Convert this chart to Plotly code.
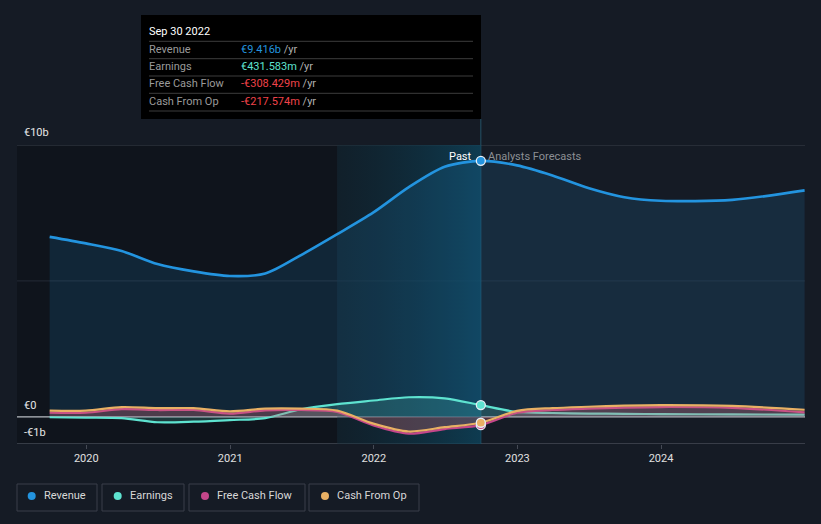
import plotly.graph_objects as go

# ---------------- data ----------------
past_dates = ["2019-09-30", "2019-12-31", "2020-03-31", "2020-06-30", "2020-09-30",
              "2020-12-31", "2021-03-31", "2021-06-30", "2021-09-30", "2021-12-31",
              "2022-03-31", "2022-06-30", "2022-09-30"]
fc_dates = ["2022-09-30", "2022-12-31", "2023-03-31", "2023-06-30", "2023-09-30",
            "2023-12-31", "2024-06-30", "2024-12-31"]

revenue_past = [6.62, 6.38, 6.10, 5.62, 5.35, 5.18, 5.27, 5.95, 6.72, 7.52, 8.45, 9.20, 9.416]
revenue_fc = [9.416, 9.25, 8.88, 8.42, 8.08, 7.95, 7.98, 8.33]

earnings_past = [-0.01, -0.03, -0.05, -0.20, -0.18, -0.12, -0.05, 0.28, 0.47, 0.60, 0.72, 0.68, 0.432]
earnings_fc = [0.432, 0.18, 0.14, 0.12, 0.11, 0.10, 0.09, 0.08]

fcf_past = [0.15, 0.15, 0.28, 0.25, 0.25, 0.12, 0.24, 0.25, 0.18, -0.32, -0.62, -0.45, -0.308]
fcf_fc = [-0.308, 0.15, 0.25, 0.30, 0.34, 0.36, 0.33, 0.16]

cfo_past = [0.23, 0.23, 0.36, 0.32, 0.32, 0.20, 0.30, 0.30, 0.23, -0.25, -0.54, -0.38, -0.218]
cfo_fc = [-0.218, 0.22, 0.32, 0.37, 0.41, 0.43, 0.40, 0.26]

tick_vals = ["2020-01-01", "2021-01-01", "2022-01-01", "2023-01-01", "2024-01-01"]
tick_text = ["2020", "2021", "2022", "2023", "2024"]

series_names = ["Revenue", "Earnings", "Free Cash Flow", "Cash From Op"]
series_colors = ["#2394df", "#5ee3d0", "#c4468a", "#e8b064"]
series_fills = ["rgba(35,148,223,0.14)", "rgba(94,227,208,0.18)",
                "rgba(196,70,138,0.22)", "rgba(232,176,100,0.12)"]

tooltip_date = "Sep 30 2022"
tooltip_values = ["€9.416b", "€431.583m", "-€308.429m", "-€217.574m"]
tooltip_colors = ["#2394df", "#5ee3d0", "#f0434a", "#f0434a"]

# ---------------- layout geometry ----------------
W, H = 821, 524
L, R, T, B = 17, 805, 145, 444
BG = "#151b25"


def px(x):
    return (x - L) / (R - L)


def py(y):
    return (B - y) / (B - T)


FONT = "Roboto"
DX = -2  # annotation padding compensation

fig = go.Figure()

# highlight band (last year before Sep 30 2022)
fig.add_trace(go.Scatter(
    x=["2021-09-30", "2022-09-30", "2022-09-30", "2021-09-30", "2021-09-30"],
    y=[-1, -1, 10, 10, -1], mode="none", fill="toself",
    fillgradient=dict(type="horizontal",
                      colorscale=[[0, "rgba(10,40,52,0.35)"], [1, "rgba(12,70,95,0.75)"]]),
    hoverinfo="skip", showlegend=False))

all_past = [revenue_past, earnings_past, fcf_past, cfo_past]
all_fc = [revenue_fc, earnings_fc, fcf_fc, cfo_fc]
for name, col, fillc, vp, vf in zip(series_names, series_colors, series_fills, all_past, all_fc):
    xs = past_dates + fc_dates[1:]
    ys = vp + vf[1:]
    fig.add_trace(go.Scatter(
        x=xs, y=ys, mode="lines", name=name,
        line=dict(color=col, width=2.6 if name == "Revenue" else 2.2, shape="spline", smoothing=0.8),
        fill="tozeroy", fillcolor=fillc, hoverinfo="skip", showlegend=False))

# markers at the past / forecast boundary
for name, col, vp in zip(series_names, series_colors, all_past):
    fig.add_trace(go.Scatter(
        x=[past_dates[-1]], y=[vp[-1]], mode="markers",
        marker=dict(size=9, color=col, line=dict(color="#e8eef5", width=1.3)),
        hoverinfo="skip", showlegend=False))

shapes = []
# darker past region
shapes.append(dict(type="rect", xref="paper", yref="paper", x0=0, x1=px(337), y0=0, y1=1,
                   fillcolor="rgba(5,8,12,0.35)", line=dict(width=0), layer="below"))
# gridlines
shapes.append(dict(type="line", xref="paper", yref="y", x0=0, x1=1, y0=10, y1=10,
                   line=dict(color="#3a404b", width=1), layer="below"))
shapes.append(dict(type="line", xref="paper", yref="y", x0=0, x1=1, y0=5, y1=5,
                   line=dict(color="#252b36", width=1), layer="below"))
shapes.append(dict(type="line", xref="paper", yref="y", x0=0, x1=1, y0=0, y1=0,
                   line=dict(color="#b8bcc2", width=1.2), layer="below"))
shapes.append(dict(type="line", xref="paper", yref="y", x0=0, x1=1, y0=-1, y1=-1,
                   line=dict(color="#454a55", width=1.5), layer="below"))
# vertical past line
shapes.append(dict(type="line", xref="x", yref="paper", x0="2022-09-30", x1="2022-09-30",
                   y0=0, y1=py(119), line=dict(color="rgba(40,95,118,0.8)", width=1), layer="below"))

# tooltip box
shapes.append(dict(type="rect", xref="paper", yref="paper", x0=px(141), x1=px(481),
                   y0=py(119), y1=py(15), fillcolor="#000000", line=dict(width=0), layer="above"))
for sy in [41.3, 58.7, 76, 93.3, 111]:
    shapes.append(dict(type="line", xref="paper", yref="paper", x0=px(149), x1=px(473),
                       y0=py(sy), y1=py(sy), line=dict(color="#3d3d3d", width=1), layer="above"))

annotations = []
annotations.append(dict(xref="paper", yref="paper", x=px(149 + DX), y=py(31), text=tooltip_date,
                        showarrow=False, xanchor="left", yanchor="middle",
                        font=dict(family=FONT, size=11, color="#ffffff")))
row_y = [49.3, 66.7, 84, 101.3]
for name, val, vc, ry in zip(series_names, tooltip_values, tooltip_colors, row_y):
    annotations.append(dict(xref="paper", yref="paper", x=px(149 + DX), y=py(ry), text=name,
                            showarrow=False, xanchor="left", yanchor="middle",
                            font=dict(family=FONT, size=11, color="#9a9a9a")))
    annotations.append(dict(xref="paper", yref="paper", x=px(241 + DX), y=py(ry),
                            text=f"<span style='color:{vc}'>{val}</span> <span style='color:#b0b0b0'>/yr</span>",
                            showarrow=False, xanchor="left", yanchor="middle",
                            font=dict(family=FONT, size=11, color=vc)))

# y labels
for txt, yy in [("€10b", 132), ("€0", 405), ("-€1b", 432)]:
    annotations.append(dict(xref="paper", yref="paper", x=px(24 + DX), y=py(yy), text=txt,
                            showarrow=False, xanchor="left", yanchor="middle",
                            font=dict(family=FONT, size=11, color="#e6e6e6")))

# Past / Analysts Forecasts
annotations.append(dict(xref="paper", yref="paper", x=px(472 + 2), y=py(156), text="Past",
                        showarrow=False, xanchor="right", yanchor="middle",
                        font=dict(family=FONT, size=11, color="#ffffff")))
annotations.append(dict(xref="paper", yref="paper", x=px(488 + DX), y=py(156), text="Analysts Forecasts",
                        showarrow=False, xanchor="left", yanchor="middle",
                        font=dict(family=FONT, size=11, color="#8c8f94")))

# custom legend
leg_boxes = [(17, 97), (102, 184), (189, 305), (309, 419)]
leg_dots = [31.7, 117.7, 205, 325]
leg_text = [44.3, 130, 217.3, 337.3]
for name, col, (bx0, bx1), dx, tx in zip(series_names, series_colors, leg_boxes, leg_dots, leg_text):
    shapes.append(dict(type="rect", xref="paper", yref="paper", x0=px(bx0), x1=px(bx1),
                       y0=py(511), y1=py(484), line=dict(color="#3a3f4a", width=1),
                       fillcolor="rgba(0,0,0,0)", layer="above"))
    shapes.append(dict(type="circle", xref="paper", yref="paper", x0=px(dx - 4), x1=px(dx + 4),
                       y0=py(500), y1=py(492), fillcolor=col, line=dict(width=0), layer="above"))
    annotations.append(dict(xref="paper", yref="paper", x=px(tx + DX), y=py(496), text=name,
                            showarrow=False, xanchor="left", yanchor="middle",
                            font=dict(family=FONT, size=11, color="#d8d8d8")))

fig.update_layout(
    width=W, height=H,
    margin=dict(l=L, r=W - R, t=T, b=H - B, pad=0),
    paper_bgcolor=BG, plot_bgcolor=BG,
    showlegend=False,
    shapes=shapes, annotations=annotations,
    font=dict(family=FONT, size=11, color="#e0e0e0"),
    xaxis=dict(type="date", range=["2019-07-09", "2025-01-01"], tickvals=tick_vals,
               ticktext=tick_text, showgrid=False, zeroline=False, showline=False,
               ticks="outside", ticklen=4, tickcolor="#454a55",
               tickfont=dict(family=FONT, size=11, color="#e0e0e0"), fixedrange=True),
    yaxis=dict(range=[-1, 10], showgrid=False, zeroline=False, showline=False,
               showticklabels=False, ticks="", fixedrange=True),
    hovermode=False,
)

fig.write_html("out.html", config={"displayModeBar": False},
               post_script="document.body.style.margin='0';document.body.style.background='#151b25';")
